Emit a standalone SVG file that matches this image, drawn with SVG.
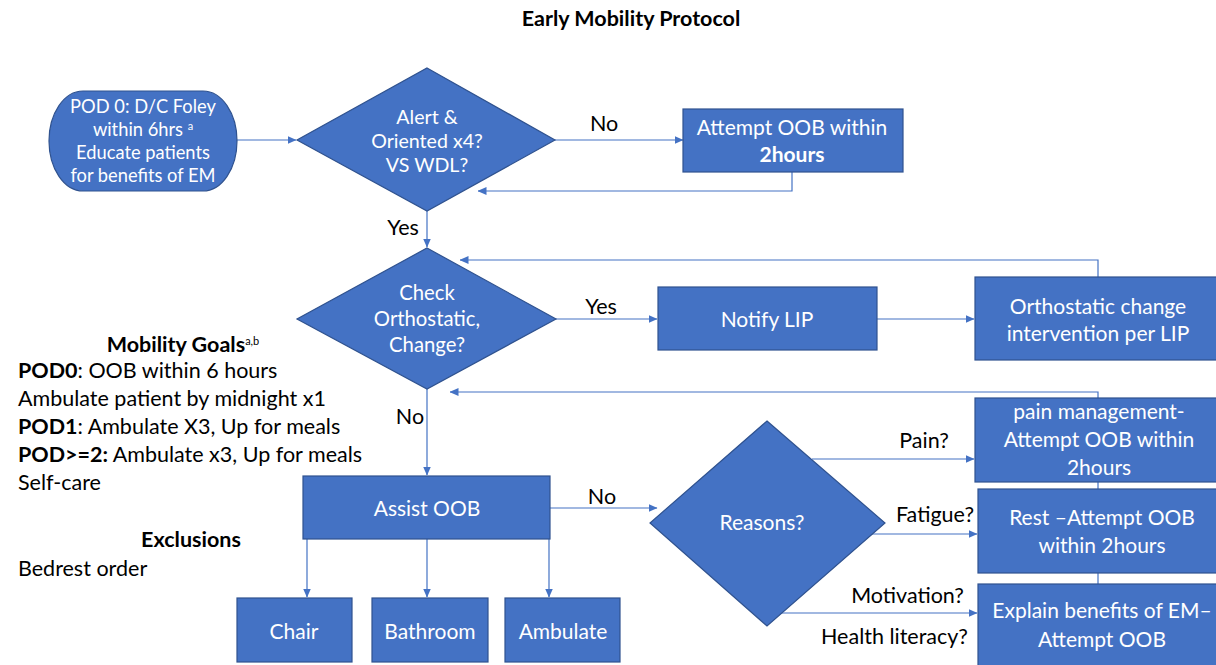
<svg xmlns="http://www.w3.org/2000/svg" width="1216" height="665" viewBox="0 0 1216 665">
<defs>
<marker id="ah" markerWidth="9" markerHeight="8" refX="8.5" refY="4" orient="auto" markerUnits="userSpaceOnUse">
<path d="M0,0 L9,4 L0,8 z" fill="#4472C4"/>
</marker>
<style>
.shape{fill:#4472C4;stroke:#2F528F;stroke-width:1.2}
.wt{fill:#ffffff;font-family:Lato,"Liberation Sans",sans-serif;font-size:21px;text-anchor:middle}
.bt{fill:#000000;font-family:Lato,"Liberation Sans",sans-serif;font-size:21.5px}
.c{fill:none;stroke:#4472C4;stroke-width:1.2}
.ca{fill:none;stroke:#4472C4;stroke-width:1.2;marker-end:url(#ah)}
</style>
</defs>
<rect width="1216" height="665" fill="#ffffff"/>
<text x="631" y="26" class="bt" style="font-weight:bold;font-size:21.5px" text-anchor="middle">Early Mobility Protocol</text>

<g id="connectors">
<path class="ca" d="M237,140 L296,140"/>
<path class="ca" d="M555,140 L683,140"/>
<path class="ca" d="M792,172 L792,191 L478,191"/>
<path class="ca" d="M427,211 L427,247"/>
<path class="ca" d="M556,319 L657,319"/>
<path class="ca" d="M877,319 L974,319"/>
<path class="ca" d="M1098,277 L1098,260 L460,260"/>
<path class="ca" d="M1098,600 L1098,392 L450,392"/>
<path class="ca" d="M427,389 L427,475"/>
<path class="ca" d="M307,539 L307,597"/>
<path class="ca" d="M427,539 L427,597"/>
<path class="ca" d="M549,539 L549,597"/>
<path class="ca" d="M550,508 L657,508"/>
<path class="ca" d="M812,459 L974,459"/>
<path class="ca" d="M871,534 L977,534"/>
<path class="ca" d="M780,613 L977,613"/>
</g>

<g id="connector-labels">
<text x="590" y="131" class="bt">No</text>
<text x="403" y="235" class="bt" text-anchor="middle">Yes</text>
<text x="601" y="314" class="bt" text-anchor="middle">Yes</text>
<text x="410" y="424" class="bt" text-anchor="middle">No</text>
<text x="602" y="504" class="bt" text-anchor="middle">No</text>
<text x="924" y="448" class="bt" text-anchor="middle">Pain?</text>
<text x="935" y="522" class="bt" text-anchor="middle">Fatigue?</text>
<text x="964" y="603" class="bt" text-anchor="end">Motivation?</text>
<text x="968" y="644" class="bt" text-anchor="end">Health literacy?</text>
</g>

<g id="start">
<rect class="shape" x="49" y="91" width="188" height="100" rx="34" ry="50"/>
<text class="wt" style="font-size:18.3px"><tspan x="143" y="113">POD 0: D/C Foley</tspan><tspan x="143" y="136">within 6hrs <tspan font-size="11" dy="-6">a</tspan></tspan><tspan x="143" y="159">Educate patients</tspan><tspan x="143" y="182">for benefits of EM</tspan></text>
</g>

<g id="alert">
<polygon class="shape" points="427,68 555,140 427,211 297,140"/>
<text class="wt" style="font-size:19.6px"><tspan x="427" y="124">Alert &amp;</tspan><tspan x="427" y="148">Oriented x4?</tspan><tspan x="427" y="172">VS WDL?</tspan></text>
</g>

<g id="attempt">
<rect class="shape" x="683" y="109" width="220" height="63"/>
<text class="wt"><tspan x="792" y="135">Attempt OOB within</tspan><tspan x="792" y="162" font-weight="bold">2hours</tspan></text>
</g>

<g id="check">
<polygon class="shape" points="427,248 556,319 427,389 297,319"/>
<text class="wt" style="font-size:20.3px"><tspan x="427" y="300">Check</tspan><tspan x="427" y="326">Orthostatic,</tspan><tspan x="427" y="352">Change?</tspan></text>
</g>

<g id="notify">
<rect class="shape" x="658" y="287" width="219" height="63"/>
<text class="wt" x="767" y="327">Notify LIP</text>
</g>

<g id="ortho">
<rect class="shape" x="975" y="277" width="245" height="83"/>
<text class="wt"><tspan x="1098" y="314">Orthostatic change</tspan><tspan x="1098" y="341">intervention per LIP</tspan></text>
</g>

<g id="assist">
<rect class="shape" x="303" y="476" width="247" height="63"/>
<text class="wt" x="427" y="516">Assist OOB</text>
</g>

<g id="chair">
<rect class="shape" x="237" y="598" width="115" height="64"/>
<text class="wt" x="294" y="639">Chair</text>
</g>
<g id="bathroom">
<rect class="shape" x="372" y="598" width="116" height="64"/>
<text class="wt" x="430" y="639">Bathroom</text>
</g>
<g id="ambulate">
<rect class="shape" x="505" y="598" width="115" height="64"/>
<text class="wt" x="563" y="639">Ambulate</text>
</g>

<g id="reasons">
<polygon class="shape" points="767,421 885,523 767,626 650,523"/>
<text class="wt" x="762" y="530">Reasons?</text>
</g>

<g id="pain">
<rect class="shape" x="975" y="398" width="245" height="84"/>
<text class="wt"><tspan x="1099" y="419">pain management-</tspan><tspan x="1099" y="447">Attempt OOB within</tspan><tspan x="1099" y="475">2hours</tspan></text>
</g>

<g id="rest">
<rect class="shape" x="978" y="489" width="242" height="84"/>
<text class="wt"><tspan x="1102" y="525">Rest –Attempt OOB</tspan><tspan x="1102" y="553">within 2hours</tspan></text>
</g>

<g id="explain">
<rect class="shape" x="978" y="584" width="242" height="90"/>
<text class="wt"><tspan x="1102" y="618">Explain benefits of EM–</tspan><tspan x="1102" y="647">Attempt OOB</tspan></text>
</g>

<g id="legend">
<text x="183" y="352" class="bt" text-anchor="middle" font-weight="bold">Mobility Goals<tspan font-size="11" font-weight="normal" dy="-7">a,b</tspan></text>
<text x="18" y="378" class="bt"><tspan font-weight="bold">POD0</tspan>: OOB within 6 hours</text>
<text x="18" y="406" class="bt">Ambulate patient by midnight x1</text>
<text x="18" y="434" class="bt"><tspan font-weight="bold">POD1</tspan>: Ambulate X3, Up for meals</text>
<text x="18" y="462" class="bt"><tspan font-weight="bold">POD&gt;=2:</tspan> Ambulate x3, Up for meals</text>
<text x="18" y="490" class="bt">Self-care</text>
<text x="191" y="547" class="bt" text-anchor="middle" font-weight="bold">Exclusions</text>
<text x="18" y="576" class="bt">Bedrest order</text>
</g>
</svg>
